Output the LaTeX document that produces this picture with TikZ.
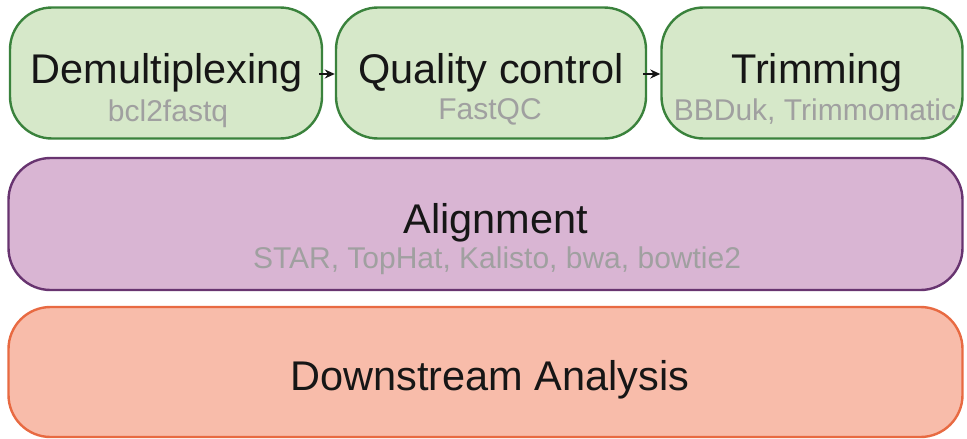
\documentclass[tikz,border=0pt]{standalone}
\usepackage{fontspec}
\setmainfont{Liberation Sans}
\usetikzlibrary{arrows.meta}

\definecolor{greenfill}{RGB}{214,232,201}
\definecolor{greenline}{RGB}{58,130,60}
\definecolor{purplefill}{RGB}{217,181,211}
\definecolor{purpleline}{RGB}{104,52,112}
\definecolor{redfill}{RGB}{248,188,170}
\definecolor{redline}{RGB}{232,106,66}
\definecolor{subgray}{RGB}{160,160,160}
\definecolor{titleblack}{RGB}{22,22,22}

\tikzset{
  stagebox/.style={rectangle, rounded corners=42pt, line width=2.4pt, inner sep=0pt},
  greenbox/.style={stagebox, draw=greenline, fill=greenfill, minimum height=131pt},
  purplebox/.style={stagebox, draw=purpleline, fill=purplefill, minimum width=954pt, minimum height=132pt},
  redbox/.style={stagebox, draw=redline, fill=redfill, minimum width=954pt, minimum height=130pt},
  title/.style={anchor=base, inner sep=0pt, text=titleblack, font=\fontsize{41.5}{48}\selectfont},
  subtitle/.style={anchor=base, inner sep=0pt, text=subgray, font=\fontsize{30}{36}\selectfont},
  flow/.style={line width=2pt, -{Stealth[length=10pt,width=9pt]}, titleblack}
}

\begin{document}
\begin{tikzpicture}[x=1pt, y=-1pt]
  \useasboundingbox (0,0) rectangle (967,439);

  % top row: three sequential steps
  \node[greenbox, minimum width=312pt] (demux) at (166,73) {};
  \node[greenbox, minimum width=310pt] (qc) at (491,73) {};
  \node[greenbox, minimum width=301pt] (trim) at (812,73) {};

  \node[title] (demuxT) at (167,83) {Demultiplexing};
  \node[subtitle] (demuxS) at (168,121) {bcl2fastq};
  \node[title] (qcT) at (491,83) {Quality control};
  \node[subtitle] (qcS) at (490,119) {FastQC};
  \node[title] (trimT) at (817,83) {Trimming};
  \node[subtitle] (trimS) at (815,120) {BBDuk, Trimmomatic};

  \draw[flow] ([xshift=-4pt,yshift=-1pt]demux.east) -- ([yshift=-1pt]qc.west);
  \draw[flow] ([xshift=-4pt,yshift=-1pt]qc.east) -- ([yshift=-1pt]trim.west);

  % alignment stage
  \node[purplebox] (align) at (485.5,224) {};
  \node[title] (alignT) at (496,233) {Alignment};
  \node[subtitle] (alignS) at (497,268) {STAR, TopHat, Kalisto, bwa, bowtie2};

  % downstream stage
  \node[redbox] (down) at (485.5,372) {};
  \node[title] (downT) at (490,390) {Downstream Analysis};
\end{tikzpicture}
\end{document}
